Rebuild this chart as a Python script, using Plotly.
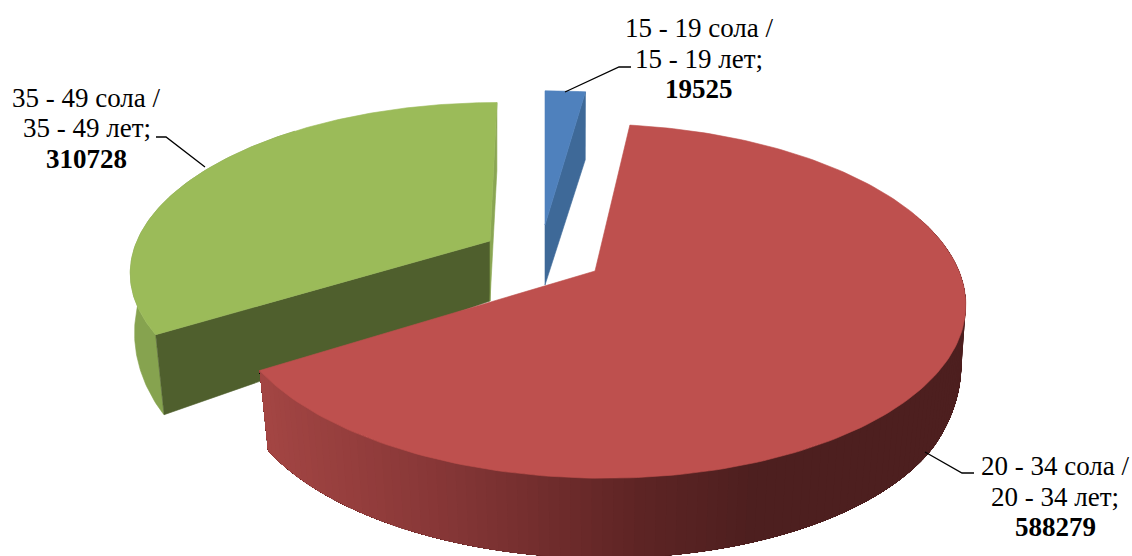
import numpy as np
import plotly.graph_objects as go

# ---- data ----
labels_uz = ["15 - 19 сола /", "20 - 34 сола /", "35 - 49 сола /"]
labels_ru = ["15 - 19 лет;", "20 - 34 лет;", "35 - 49 лет;"]
values = [19525, 588279, 310728]

# ---- style ----
W, H = 1132, 556
FONT = "Liberation Serif"
TOP = ["#4f81bd", "#be504e", "#9bbb59"]
CUT = ["#3e6998", None, "#4f5f2d"]
PERSP = 0.17          # perspective strength of the tilted disc
VANISH_X, VANISH_H = 545, 1100
# tip position and radii of each exploded slice, on the page
GEOM = [dict(cx=545, cy=225, f=355, g=157),
        dict(cx=595, cy=271, f=364, g=172),
        dict(cx=490, cy=241, f=353, g=162)]
WALL_STOPS = [(260, (164, 70, 68)), (440, (135, 55, 55)),
              (640, (94, 37, 37)), (760, (77, 31, 31)), (1000, (77, 31, 31))]
GREEN_WALL = "#86a34f"
GREEN_EDGE = "#8aa653"

# slice angles come from the values (clockwise from 12 o'clock)
fr = np.array(values) / sum(values)
edges = np.concatenate([[0], np.cumsum(fr) * 2 * np.pi])


def top_pt(g, a):
    a = np.asarray(a, dtype=float)
    u, v = np.sin(a), np.cos(a)
    w = 1 + PERSP * v
    y = g["cy"] - g["g"] * v / w
    x = g["cx"] + g["f"] * u / w + (VANISH_X - g["cx"]) * (g["cy"] - y) / VANISH_H
    return x, y


def bot_pt(g, a):
    a = np.asarray(a, dtype=float)
    x, y = top_pt(g, a)
    v = np.cos(a)
    t = np.clip(-v / 0.5, 0, 1)
    depth = np.where(v >= 0, 60 + 8 * v, 60 + 20 * t)
    shrink = 0.995 - 0.02 * t
    return g["cx"] + (x - g["cx"]) * shrink, y + depth


def wall_color(x):
    xs = [s[0] for s in WALL_STOPS]
    c = [int(np.interp(x, xs, [s[1][i] for s in WALL_STOPS])) for i in range(3)]
    return f"rgb({c[0]},{c[1]},{c[2]})"


fig = go.Figure()


def poly(xs, ys, color, lw=0.6):
    fig.add_trace(go.Scatter(
        x=np.asarray(xs), y=np.asarray(ys), mode="lines", fill="toself", fillcolor=color,
        line=dict(color=color, width=lw), hoverinfo="skip", showlegend=False))


def top_face(i):
    g = GEOM[i]
    a = np.linspace(edges[i], edges[i + 1], 200)
    x, y = top_pt(g, a)
    poly(np.r_[g["cx"], x, g["cx"]], np.r_[g["cy"], y, g["cy"]], TOP[i])


def cut_face(i, ang, color):
    g = GEOM[i]
    xt, yt = top_pt(g, ang)
    xb, yb = bot_pt(g, ang)
    poly([g["cx"], xt, xb, g["cx"], g["cx"]],
         [g["cy"], yt, yb, g["cy"] + 60, g["cy"]], color)


# green slice
g = GEOM[2]
a = np.linspace(edges[2], np.radians(320), 120)
xt, yt = top_pt(g, a)
xb, yb = bot_pt(g, a)
poly(np.r_[xt, xb[::-1]], np.r_[yt, yb[::-1]], GREEN_WALL)
cut_face(2, edges[2], CUT[2])
cut_face(2, edges[3], GREEN_EDGE)
top_face(2)

# blue slice
cut_face(0, edges[1], CUT[0])
top_face(0)

# red slice: shaded rim in narrow bands, each one running under the next
g = GEOM[1]
a = np.linspace(np.radians(70), edges[2], 120)
for k in range(len(a) - 1):
    s = np.linspace(a[k], edges[2], 40)
    xt, yt = top_pt(g, s)
    xb, yb = bot_pt(g, s)
    x0 = top_pt(g, a[k:k + 2])[0].mean()
    poly(np.r_[xt, xb[::-1]], np.r_[yt, yb[::-1]], wall_color(x0), lw=0)
top_face(1)

# leader lines
LEADERS = [([565, 619, 631], [92, 67, 67]),
           ([925, 962, 974], [452, 473, 473]),
           ([205, 166, 156], [167, 137, 137])]
for lx, ly in LEADERS:
    fig.add_trace(go.Scatter(x=lx, y=ly, mode="lines", line=dict(color="black", width=1.3),
                             hoverinfo="skip", showlegend=False))

LABEL_POS = [(699, 28), (1055, 466), (86.5, 97.5)]
LINE_STEP = 30.5
annotations = []
for i, (px, py) in enumerate(LABEL_POS):
    for j, txt in enumerate([labels_uz[i], labels_ru[i], f"<b>{values[i]}</b>"]):
        annotations.append(dict(
            x=px, y=py + j * LINE_STEP, xref="x", yref="y", showarrow=False, align="center",
            text=txt, font=dict(family=FONT, size=27, color="black")))

fig.update_layout(
    width=W, height=H, margin=dict(l=0, r=0, t=0, b=0),
    paper_bgcolor="white", plot_bgcolor="white", showlegend=False,
    xaxis=dict(range=[0, W], visible=False, fixedrange=True),
    yaxis=dict(range=[H, 0], visible=False, fixedrange=True),
    annotations=annotations,
)
fig.write_html("out.html", config={"displayModeBar": False},
               post_script="document.body.style.margin='0';")
